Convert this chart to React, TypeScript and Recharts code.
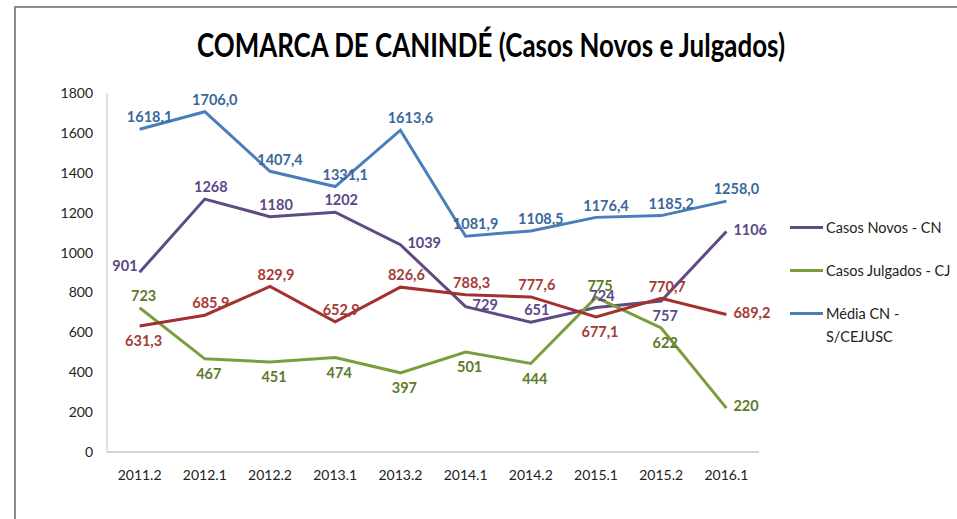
import { LineChart, Line, XAxis, YAxis } from 'recharts';

const periods = ['2011.2', '2012.1', '2012.2', '2013.1', '2013.2', '2014.1', '2014.2', '2015.1', '2015.2', '2016.1'];
const casosNovos = [901, 1268, 1180, 1202, 1039, 729, 651, 724, 757, 1106];
const casosJulgados = [723, 467, 451, 474, 397, 501, 444, 775, 622, 220];
const mediaCN = [1618.1, 1706.0, 1407.4, 1331.1, 1613.6, 1081.9, 1108.5, 1176.4, 1185.2, 1258.0];
const mediaCJ = [631.3, 685.9, 829.9, 652.9, 826.6, 788.3, 777.6, 677.1, 770.7, 689.2];
const yTicks = [0, 200, 400, 600, 800, 1000, 1200, 1400, 1600, 1800];

const data = periods.map((p, i) => ({
  periodo: p,
  cn: casosNovos[i],
  cj: casosJulgados[i],
  mediaCN: mediaCN[i],
  mediaCJ: mediaCJ[i],
}));

// where each data label sits relative to its point
const cnPlace = ['left', 'top', 'top', 'top', 'right', 'right', 'top', 'top', 'bottom', 'right'];
const cjPlace = ['top', 'bottom', 'bottom', 'bottom', 'bottom', 'bottom', 'bottom', 'top', 'bottom', 'right'];
const mediaCNPlace = ['top', 'top', 'top', 'top', 'top', 'top', 'top', 'top', 'top', 'top'];
const mediaCJPlace = ['bottom', 'top', 'top', 'top', 'top', 'top', 'top', 'bottom', 'top', 'right'];

const FONT = 'Lato, "Open Sans", sans-serif';

const makeLabel = (color: string, place: string[], decimals: number, topDx: number) => (props: any) => {
  const { x, y, value, index } = props;
  const pos = place[index];
  const text = decimals > 0 ? Number(value).toFixed(decimals).replace('.', ',') : String(value);
  let tx = x;
  let ty = y;
  let anchor: 'middle' | 'start' | 'end' = 'middle';
  if (pos === 'top') { tx = x + topDx; ty = y - 12; }
  else if (pos === 'bottom') { tx = x + 4; ty = y + 15; }
  else if (pos === 'left') { tx = x - 2; ty = y - 7; anchor = 'end'; }
  else { tx = x + 7; ty = y - 2; anchor = 'start'; }
  return (
    <text key={index} x={tx} y={ty} dy="0.36em" textAnchor={anchor} fill={color}
      fontFamily={FONT} fontSize={14.5} fontWeight={700}>
      {text}
    </text>
  );
};

const legendItems = [
  { label: 'Casos Novos - CN', color: '#604a84' },
  { label: 'Casos Julgados - CJ', color: '#7b9e3c' },
  { label: 'Média CN -', label2: 'S/CEJUSC', color: '#4a7ebb' },
];

const LegendBox = () => (
  <div style={{ position: 'absolute', left: 790, top: 216, fontFamily: FONT, fontSize: 14.5, color: '#222' }}>
    {legendItems.map((it) => (
      <div key={it.label} style={{ display: 'flex', alignItems: 'flex-start', height: 43 }}>
        <div style={{ width: 33, height: 3, background: it.color, marginTop: 10, marginRight: 3 }} />
        <div style={{ lineHeight: '23px' }}>
          <div>{it.label}</div>
          {it.label2 && <div>{it.label2}</div>}
        </div>
      </div>
    ))}
  </div>
);

export default function App() {
  return (
    <div style={{ position: 'relative', width: 957, height: 519, background: '#fff' }}>
      <style>{'body{margin:0}'}</style>
      <div style={{ position: 'absolute', left: 14, top: 6, right: 0, bottom: 0, borderLeft: '2px solid #8c8c8c', borderTop: '2px solid #8c8c8c' }} />
      <svg width={957} height={80} style={{ position: 'absolute', left: 0, top: 0 }}>
        <text x={197} y={46} dy="0.35em" textLength={588} lengthAdjust="spacingAndGlyphs"
          fontFamily={FONT} fontSize={32} fontWeight={700} fill="#000">
          COMARCA DE CANINDÉ (Casos Novos e Julgados)
        </text>
      </svg>
      <div style={{ position: 'absolute', left: 0, top: 0 }}>
        <LineChart width={957} height={519} data={data} margin={{ top: 93, right: 198, bottom: 37, left: 47 }}>
          <XAxis dataKey="periodo" stroke="#a6a6a6" tickLine={false} tickSize={6} tickMargin={12}
            padding={{ left: 32.6, right: 32.6 }}
            tick={{ fill: '#222', fontFamily: FONT, fontSize: 14 }} height={30} />
          <YAxis domain={[0, 1800]} ticks={yTicks} stroke="#c4c4c4" tickLine={false} tickSize={6} tickMargin={8}
            width={60} tick={{ fill: '#222', fontFamily: FONT, fontSize: 14 }} />
          <Line dataKey="cn" name="Casos Novos - CN" stroke="#604a84" strokeWidth={3} dot={false}
            isAnimationActive={false} label={makeLabel('#5c4788', cnPlace, 0, 6)} />
          <Line dataKey="cj" name="Casos Julgados - CJ" stroke="#7b9e3c" strokeWidth={3} dot={false}
            isAnimationActive={false} label={makeLabel('#5e7a2b', cjPlace, 0, 4)} />
          <Line dataKey="mediaCN" name="Média CN - S/CEJUSC" stroke="#4a7ebb" strokeWidth={3} dot={false}
            isAnimationActive={false} label={makeLabel('#3b679c', mediaCNPlace, 1, 10)} />
          <Line dataKey="mediaCJ" name="Média CJ" stroke="#a3322f" strokeWidth={3} dot={false}
            isAnimationActive={false} label={makeLabel('#a53a36', mediaCJPlace, 1, 6)} />
        </LineChart>
      </div>
      <LegendBox />
    </div>
  );
}
